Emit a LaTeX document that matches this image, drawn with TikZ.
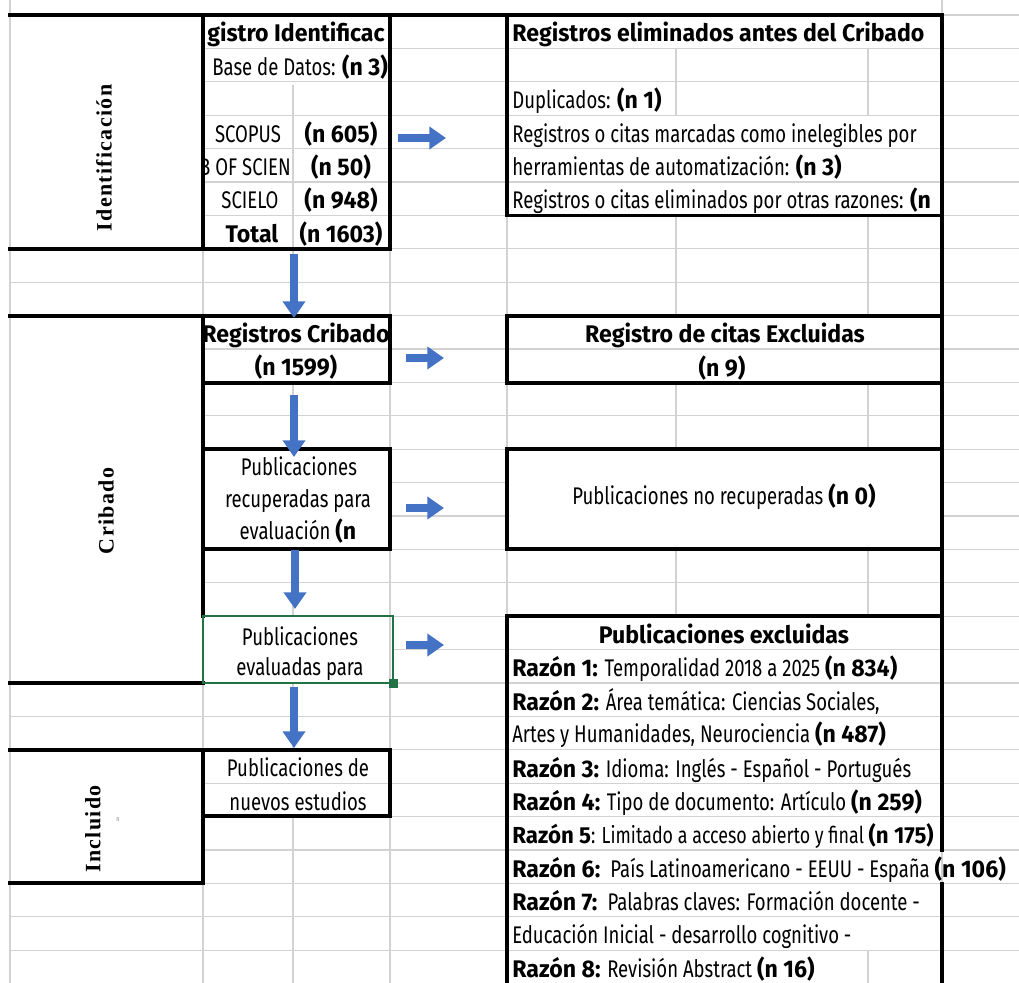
\documentclass[tikz,border=0pt]{standalone}
\usepackage{fontspec}
\setmainfont{Fira Sans}[FakeStretch=0.77,BoldFeatures={FakeStretch=0.96}]
\newfontfamily\serifbold{Liberation Serif}[LetterSpace=6]
\usetikzlibrary{arrows.meta}
\definecolor{arrowblue}{RGB}{68,114,196}
\definecolor{selgreen}{RGB}{33,115,70}
\definecolor{gridgray}{RGB}{210,210,210}
\newcommand\cellfont{\fontsize{13.7}{16}\selectfont}
\tikzset{
  gridline/.style={draw=gridgray,line width=0.7pt},
  heavy/.style={draw=black,line width=1.8pt,line cap=rect},
  celltext/.style={inner sep=0pt,anchor=base west,font=\cellfont},
  ctext/.style={inner sep=0pt,anchor=base,font=\cellfont},
  sidelabel/.style={inner sep=0pt,rotate=90,font={\serifbold\bfseries\fontsize{12.5}{14}\selectfont}},
  flowarrow/.style={draw=arrowblue,line width=4pt,-{Triangle[width=12.5pt,length=9.5pt]}}
}
\begin{document}
\begin{tikzpicture}[x=0.02cm,y=-0.02cm]
\useasboundingbox (0,0) rectangle (1019,983);
\clip (0,0) rectangle (1019,983);
\fill[white] (0,0) rectangle (1019,983);
% horizontal grid
\foreach \k in {0,...,29} \draw[gridline] (10,{15+33.4*\k}) -- (1019,{15+33.4*\k});
% merged cells
\fill[white] (10,15) rectangle (203,249);
\fill[white] (10,316) rectangle (203,683);
\fill[white] (10,750) rectangle (203,883);
\fill[white] (203,449) rectangle (390,549);
\fill[white] (203,616) rectangle (393,683);
\fill[white] (507,449) rectangle (942,549);
% vertical grid
\draw[gridline] (10,0) -- (10,983);
\draw[gridline] (203,15) -- (203,983);
\draw[gridline] (293,85) -- (293,316) (293,383) -- (293,449) (293,549) -- (293,616) (293,683) -- (293,750) (293,816) -- (293,983);
\draw[gridline] (390,15) -- (390,983);
\draw[gridline] (507,15) -- (507,983);
\draw[gridline] (676,48) -- (676,115) (676,215) -- (676,316) (676,383) -- (676,449) (676,549) -- (676,616);
\draw[gridline] (868,48) -- (868,115) (868,215) -- (868,316) (868,383) -- (868,449) (868,549) -- (868,616) (868,950) -- (868,983);
\draw[gridline] (942,0) -- (942,983);

% side labels
\node[sidelabel] (lblid) at (104,158) {Identificación};
\node[sidelabel] (lblcrib) at (106,511) {Cribado};
\node[sidelabel] (lblinc) at (93,829) {Incluido};
\node[inner sep=0pt,text=gray,font=\fontsize{4}{4}\selectfont] (lblmark) at (118,820) {n};

% registro identificado box
\begin{scope}
\clip (204,15) rectangle (390,249);
\node[ctext,font=\cellfont\bfseries] (regtitle) at (296,42) {gistro Identificac};
\node[celltext] (regbase) at (212,76) {Base de Datos: \textbf{(n 3)}};
\end{scope}
\node[ctext] (scopus) at (248,143) {SCOPUS};
\node[ctext] (nscopus) at (341,143) {\textbf{(n 605)}};
\begin{scope}
\clip (204,150) rectangle (292,182);
\node[ctext] (wos) at (245,176) {B OF SCIEN};
\end{scope}
\node[ctext] (nwos) at (341,176) {\textbf{(n 50)}};
\node[ctext] (scielo) at (250,209) {SCIELO};
\node[ctext] (nscielo) at (341,209) {\textbf{(n 948)}};
\node[ctext] (total) at (252,243) {\textbf{Total}};
\node[ctext] (ntotal) at (341,243) {\textbf{(n 1603)}};

% registros eliminados box
\node[celltext] (elimtitle) at (512,42) {\textbf{Registros eliminados antes del Cribado}};
\node[celltext] (dup) at (512,109) {Duplicados: \textbf{(n 1)}};
\node[celltext] (ineleg) at (512,143) {Registros o citas marcadas como inelegibles por};
\node[celltext] (herram) at (512,176) {herramientas de automatización: \textbf{(n 3)}};
\begin{scope}
\clip (507,182) rectangle (941,215);
\node[celltext] (otras) at (512,209) {Registros o citas eliminados por otras razones: \textbf{(n}};
\end{scope}

% registros cribado
\begin{scope}
\clip (204,316) rectangle (390,383);
\node[ctext] (cribtitle) at (296,343) {\textbf{Registros Cribado}};
\end{scope}
\node[ctext] (ncrib) at (296,376) {\textbf{(n 1599)}};
\node[ctext] (excltitle) at (725,343) {\textbf{Registro de citas Excluidas}};
\node[ctext] (nexcl) at (722,377) {\textbf{(n 9)}};

% recuperadas
\node[ctext] (recup1) at (299,476) {Publicaciones};
\node[ctext] (recup2) at (298,508) {recuperadas para};
\node[ctext] (recup3) at (298,540) {evaluación \textbf{(n}};
\node[ctext] (norecup) at (724,505) {Publicaciones no recuperadas \textbf{(n 0)}};

% evaluadas
\node[ctext] (eval1) at (300,645) {Publicaciones};
\node[ctext] (eval2) at (300,676) {evaluadas para};

% nuevos
\node[ctext] (nuevos1) at (298,776) {Publicaciones de};
\node[ctext] (nuevos2) at (298,810) {nuevos estudios};

% publicaciones excluidas
\node[ctext] (pubexcl) at (724,643) {\textbf{Publicaciones excluidas}};
\node[celltext] (raz1) at (512,677) {\textbf{Razón 1:} Temporalidad 2018 a 2025 \textbf{(n 834)}};
\node[celltext] (raz2) at (512,710) {\textbf{Razón 2:} Área temática: Ciencias Sociales,};
\node[celltext] (raz2b) at (512,743) {Artes y Humanidades, Neurociencia \textbf{(n 487)}};
\node[celltext] (raz3) at (512,777) {\textbf{Razón 3:} Idioma: Inglés - Español - Portugués};
\node[celltext] (raz4) at (512,810) {\textbf{Razón 4:} Tipo de documento: Artículo \textbf{(n 259)}};
\node[celltext,font=\fontsize{13.2}{16}\selectfont] (raz5) at (512,843) {\textbf{Razón 5}: Limitado a acceso abierto y final \textbf{(n 175)}};
\node[celltext] (raz6) at (512,877) {\textbf{Razón 6:}\hspace{0.15em} País Latinoamericano - EEUU - España \textbf{(n 106)}};
\node[celltext] (raz7) at (512,910) {\textbf{Razón 7:}\hspace{0.15em} Palabras claves: Formación docente -};
\node[celltext] (raz7b) at (512,943) {Educación Inicial - desarrollo cognitivo -};
\node[celltext] (raz8) at (512,977) {\textbf{Razón 8:} Revisión Abstract \textbf{(n 16)}};

% heavy borders
\draw[heavy] (10,15) -- (942,15);
\draw[heavy] (203,15) -- (203,249) (390,15) -- (390,249) (10,249) -- (390,249);
\draw[heavy] (10,316) -- (390,316) (203,316) -- (203,616) (10,683) -- (203,683);
\draw[heavy] (390,316) -- (390,383) (203,383) -- (390,383);
\draw[heavy] (203,449) rectangle (390,549);
\draw[heavy] (10,750) -- (390,750) (203,750) -- (203,883) (10,883) -- (203,883);
\draw[heavy] (390,750) -- (390,816) (203,816) -- (390,816);
\draw[heavy] (507,15) -- (507,215.4) -- (942,215.4);
\draw[heavy] (942,15) -- (942,850);
\draw[heavy] (942,884) -- (942,990);
\draw[heavy] (507,316) rectangle (942,383);
\draw[heavy] (507,449) rectangle (942,549);
\draw[heavy] (507,990) -- (507,616) -- (942,616);
% selected cell
\draw[draw=selgreen,line width=1.6pt] (203,616) rectangle (393,683);
\fill[selgreen] (389,679) rectangle (398,688);

% arrows
\coordinate (a1s) at (398,138); \coordinate (a1e) at (446,138);
\coordinate (a2s) at (406,358); \coordinate (a2e) at (444,358);
\coordinate (a3s) at (406,508); \coordinate (a3e) at (444,508);
\coordinate (a4s) at (406,645); \coordinate (a4e) at (444,645);
\coordinate (d1s) at (294,254); \coordinate (d1e) at (294,318);
\coordinate (d2s) at (294,395); \coordinate (d2e) at (294,457);
\coordinate (d3s) at (295,550); \coordinate (d3e) at (295,609);
\coordinate (d4s) at (294,687); \coordinate (d4e) at (294,748);
\draw[flowarrow] (a1s) -- (a1e);
\draw[flowarrow] (a2s) -- (a2e);
\draw[flowarrow] (a3s) -- (a3e);
\draw[flowarrow] (a4s) -- (a4e);
\draw[flowarrow] (d1s) -- (d1e);
\draw[flowarrow] (d2s) -- (d2e);
\draw[flowarrow] (d3s) -- (d3e);
\draw[flowarrow] (d4s) -- (d4e);
\end{tikzpicture}
\end{document}
